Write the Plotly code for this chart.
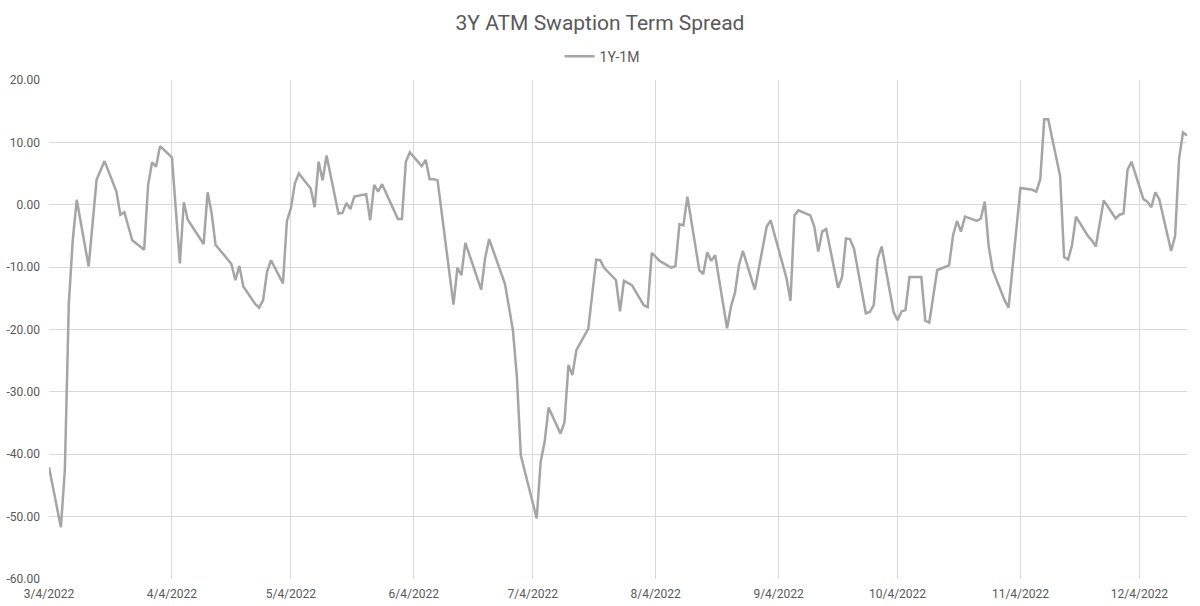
import plotly.graph_objects as go

title_text = "3Y ATM Swaption Term Spread"
series_name = "1Y-1M"

dates = [
    "2022-03-04", "2022-03-07", "2022-03-08", "2022-03-09", "2022-03-10", "2022-03-11",
    "2022-03-14", "2022-03-15", "2022-03-16", "2022-03-18", "2022-03-21", "2022-03-22",
    "2022-03-23", "2022-03-25", "2022-03-28", "2022-03-29", "2022-03-30", "2022-03-31",
    "2022-04-01", "2022-04-04", "2022-04-06", "2022-04-07", "2022-04-08", "2022-04-12",
    "2022-04-13", "2022-04-14", "2022-04-15", "2022-04-19", "2022-04-20", "2022-04-21",
    "2022-04-22", "2022-04-25", "2022-04-26", "2022-04-27", "2022-04-28", "2022-04-29",
    "2022-05-02", "2022-05-03", "2022-05-04", "2022-05-05", "2022-05-06", "2022-05-09",
    "2022-05-10", "2022-05-11", "2022-05-12", "2022-05-13", "2022-05-16", "2022-05-17",
    "2022-05-18", "2022-05-19", "2022-05-20", "2022-05-23", "2022-05-24", "2022-05-25",
    "2022-05-26", "2022-05-27", "2022-05-31", "2022-06-01", "2022-06-02", "2022-06-03",
    "2022-06-06", "2022-06-07", "2022-06-08", "2022-06-09", "2022-06-10", "2022-06-14",
    "2022-06-15", "2022-06-16", "2022-06-17", "2022-06-21", "2022-06-22", "2022-06-23",
    "2022-06-27", "2022-06-29", "2022-06-30", "2022-07-01", "2022-07-05", "2022-07-06",
    "2022-07-07", "2022-07-08", "2022-07-11", "2022-07-12", "2022-07-13", "2022-07-14",
    "2022-07-15", "2022-07-18", "2022-07-20", "2022-07-21", "2022-07-22", "2022-07-25",
    "2022-07-26", "2022-07-27", "2022-07-29", "2022-08-01", "2022-08-02", "2022-08-03",
    "2022-08-05", "2022-08-08", "2022-08-09", "2022-08-10", "2022-08-11", "2022-08-12",
    "2022-08-15", "2022-08-16", "2022-08-17", "2022-08-18", "2022-08-19", "2022-08-22",
    "2022-08-23", "2022-08-24", "2022-08-25", "2022-08-26", "2022-08-29", "2022-09-01",
    "2022-09-02", "2022-09-06", "2022-09-07", "2022-09-08", "2022-09-09", "2022-09-12",
    "2022-09-13", "2022-09-14", "2022-09-15", "2022-09-16", "2022-09-19", "2022-09-20",
    "2022-09-21", "2022-09-22", "2022-09-23", "2022-09-26", "2022-09-27", "2022-09-28",
    "2022-09-29", "2022-09-30", "2022-10-03", "2022-10-04", "2022-10-05", "2022-10-06",
    "2022-10-07", "2022-10-10", "2022-10-11", "2022-10-12", "2022-10-14", "2022-10-17",
    "2022-10-18", "2022-10-19", "2022-10-20", "2022-10-21", "2022-10-24", "2022-10-25",
    "2022-10-26", "2022-10-27", "2022-10-28", "2022-10-31", "2022-11-01", "2022-11-04",
    "2022-11-07", "2022-11-08", "2022-11-09", "2022-11-10", "2022-11-11", "2022-11-14",
    "2022-11-15", "2022-11-16", "2022-11-17", "2022-11-18", "2022-11-21", "2022-11-22",
    "2022-11-23", "2022-11-25", "2022-11-28", "2022-11-29", "2022-11-30", "2022-12-01",
    "2022-12-02", "2022-12-05", "2022-12-06", "2022-12-07", "2022-12-08", "2022-12-09",
    "2022-12-12", "2022-12-13", "2022-12-14", "2022-12-15", "2022-12-16",
]

values = [
    -42.1, -51.7, -42.5, -15.8, -5.6, 0.8,
    -9.9, -2.5, 4.0, 7.0, 2.1, -1.6,
    -1.2, -5.7, -7.2, 3.2, 6.8, 6.1,
    9.4, 7.6, -9.4, 0.4, -2.4, -6.3,
    2.0, -1.3, -6.4, -9.5, -12.1, -9.8,
    -13.1, -15.9, -16.5, -15.3, -10.7, -8.9,
    -12.6, -2.6, -0.6, 3.4, 5.0, 2.6,
    -0.4, 6.9, 3.9, 7.9, -1.4, -1.3,
    0.3, -0.7, 1.3, 1.7, -2.5, 3.2,
    2.1, 3.3, -2.3, -2.3, 6.9, 8.4,
    6.2, 7.2, 4.1, 4.1, 3.9, -16.0,
    -10.1, -11.3, -6.1, -13.6, -8.5, -5.5,
    -12.7, -20.1, -27.6, -40.2, -50.3, -41.2,
    -38.0, -32.5, -36.7, -34.9, -25.7, -27.3,
    -23.3, -19.9, -8.8, -8.9, -10.1, -12.1,
    -17.1, -12.2, -12.9, -16.1, -16.4, -7.7,
    -9.0, -10.1, -9.8, -3.1, -3.3, 1.3,
    -10.5, -11.1, -7.6, -9.0, -8.1, -19.8,
    -16.3, -14.1, -9.7, -7.4, -13.6, -3.5,
    -2.5, -11.8, -15.4, -1.7, -0.9, -1.7,
    -3.5, -7.5, -4.3, -3.9, -13.3, -11.6,
    -5.4, -5.5, -7.0, -17.4, -17.2, -16.1,
    -8.6, -6.7, -17.2, -18.5, -17.1, -16.9,
    -11.6, -11.6, -18.6, -18.9, -10.5, -9.7,
    -4.9, -2.6, -4.3, -1.9, -2.6, -2.2,
    0.5, -6.7, -10.5, -15.3, -16.5, 2.7,
    2.4, 2.1, 4.1, 13.7, 13.7, 4.6,
    -8.4, -8.8, -6.5, -1.9, -5.0, -5.7,
    -6.7, 0.7, -2.2, -1.6, -1.4, 5.6,
    6.9, 0.9, 0.5, -0.4, 2.0, 0.9,
    -7.4, -5.0, 7.4, 11.6, 11.1,
]

x_tick_dates = ["2022-03-04", "2022-04-04", "2022-05-04", "2022-06-04", "2022-07-04",
                "2022-08-04", "2022-09-04", "2022-10-04", "2022-11-04", "2022-12-04"]
x_tick_labels = ["3/4/2022", "4/4/2022", "5/4/2022", "6/4/2022", "7/4/2022",
                 "8/4/2022", "9/4/2022", "10/4/2022", "11/4/2022", "12/4/2022"]
y_tick_values = [-60, -50, -40, -30, -20, -10, 0, 10, 20]
y_tick_labels = ["-60.00", "-50.00", "-40.00", "-30.00", "-20.00", "-10.00", "0.00", "10.00", "20.00"]
x_range = ["2022-03-04", "2022-12-16"]

fig = go.Figure()
fig.add_trace(go.Scatter(
    x=dates, y=values, mode="lines", name=series_name,
    line=dict(color="#a5a5a5", width=2.5),
))

fig.update_layout(
    width=1200, height=606,
    margin=dict(l=49, r=13, t=80, b=27, autoexpand=False),
    paper_bgcolor="white", plot_bgcolor="white",
    font=dict(family="Roboto, Liberation Sans, sans-serif", color="#595959", size=12),
    title=dict(text=title_text, x=0.5, xanchor="center", y=0.962, yanchor="middle",
               font=dict(size=21, color="#595959")),
    showlegend=True,
    legend=dict(orientation="h", x=0.486, xanchor="center", y=1.047, yanchor="middle",
                font=dict(size=14, color="#595959"), itemwidth=30,
                bgcolor="rgba(0,0,0,0)"),
    xaxis=dict(
        type="date", range=x_range, automargin=False,
        tickvals=x_tick_dates, ticktext=x_tick_labels,
        showgrid=True, gridcolor="#d9d9d9", gridwidth=1,
        showline=False, zeroline=False, ticks="", ticklabelstandoff=6,
        tickfont=dict(size=12, color="#595959"),
    ),
    yaxis=dict(
        range=[-60, 20], automargin=False,
        tickvals=y_tick_values, ticktext=y_tick_labels,
        showgrid=True, gridcolor="#d9d9d9", gridwidth=1,
        showline=False, zeroline=False, ticks="", ticklabelstandoff=8,
        tickfont=dict(size=12, color="#595959"),
    ),
)

fig.write_html("out.html")
